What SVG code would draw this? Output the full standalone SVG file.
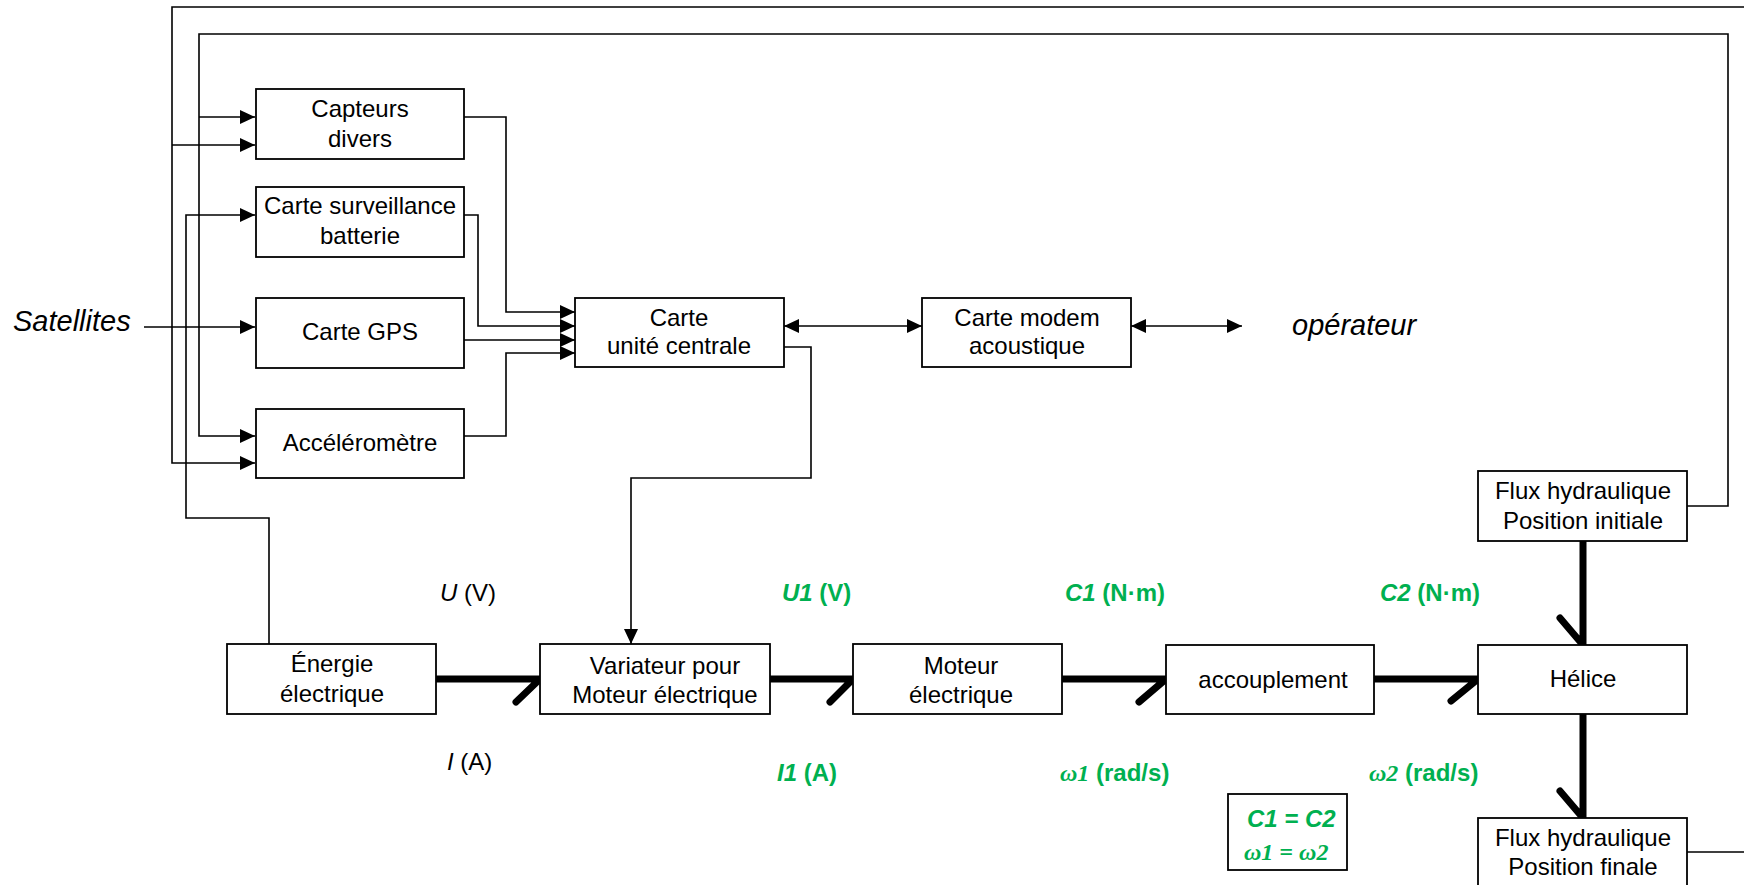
<svg xmlns="http://www.w3.org/2000/svg" width="1744" height="885" viewBox="0 0 1744 885">
<defs>
<style>
.box{fill:#fff;stroke:#000;stroke-width:1.8}
.ln{fill:none;stroke:#000;stroke-width:1.6}
.thick{fill:none;stroke:#000;stroke-width:7;stroke-linecap:round;stroke-linejoin:round}
.t{font-family:"Liberation Sans",Arial,sans-serif;font-size:24px;fill:#000;text-anchor:middle}
.lab{font-family:"Liberation Sans",Arial,sans-serif;font-size:29px;font-style:italic;fill:#000}
.v{font-family:"Liberation Sans",Arial,sans-serif;font-size:24px;fill:#000}
.g{font-family:"Liberation Sans",Arial,sans-serif;font-size:24px;font-weight:bold;fill:#00B050}
.om{font-family:"Liberation Serif","Times New Roman",serif;font-style:italic}
</style>
<marker id="ah" markerUnits="userSpaceOnUse" markerWidth="16" markerHeight="14" refX="15" refY="7" orient="auto-start-reverse">
<path d="M0,0 L15,7 L0,14 z" fill="#000"/>
</marker>
</defs>
<rect width="1744" height="885" fill="#fff"/>

<g id="connectors">
<path class="ln" d="M1687,852 H1747 V7 H172 V463 H255" marker-end="url(#ah)"/>
<path class="ln" d="M172,145 H255" marker-end="url(#ah)"/>
<path class="ln" d="M1687,506 H1728 V34 H199 V436 H255" marker-end="url(#ah)"/>
<path class="ln" d="M199,117 H255" marker-end="url(#ah)"/>
<path class="ln" d="M269,644 V518 H186 V215 H255" marker-end="url(#ah)"/>
<path class="ln" d="M144,327 H255" marker-end="url(#ah)"/>
<path class="ln" d="M464,117 H506 V312 H575" marker-end="url(#ah)"/>
<path class="ln" d="M464,215 H478 V326 H575" marker-end="url(#ah)"/>
<path class="ln" d="M464,340 H575" marker-end="url(#ah)"/>
<path class="ln" d="M464,436 H506 V353 H575" marker-end="url(#ah)"/>
<path class="ln" d="M784,347 H811 V478 H631 V644" marker-end="url(#ah)"/>
<path class="ln" d="M784,326 H922" marker-start="url(#ah)" marker-end="url(#ah)"/>
<path class="ln" d="M1131,326 H1242" marker-start="url(#ah)" marker-end="url(#ah)"/>
<path class="thick" d="M437,679 H540 L516,702"/>
<path class="thick" d="M771,679 H853 L830,702"/>
<path class="thick" d="M1063,679 H1166 L1139,702"/>
<path class="thick" d="M1375,679 H1478 L1451,701"/>
<path class="thick" d="M1583,542 V645 L1560,618"/>
<path class="thick" d="M1583,715 V818 L1560,791"/>
</g>

<g id="capteurs"><rect class="box" x="256" y="89" width="208" height="70"/><text class="t" x="360" y="117">Capteurs</text><text class="t" x="360" y="147">divers</text></g>
<g id="surveillance"><rect class="box" x="256" y="187" width="208" height="70"/><text class="t" x="360" y="214">Carte surveillance</text><text class="t" x="360" y="244">batterie</text></g>
<g id="gps"><rect class="box" x="256" y="298" width="208" height="70"/><text class="t" x="360" y="340">Carte GPS</text></g>
<g id="accelerometre"><rect class="box" x="256" y="409" width="208" height="69"/><text class="t" x="360" y="451">Accéléromètre</text></g>
<g id="unite"><rect class="box" x="575" y="298" width="209" height="69"/><text class="t" x="679" y="326">Carte</text><text class="t" x="679" y="354">unité centrale</text></g>
<g id="modem"><rect class="box" x="922" y="298" width="209" height="69"/><text class="t" x="1027" y="326">Carte modem</text><text class="t" x="1027" y="354">acoustique</text></g>
<g id="energie"><rect class="box" x="227" y="644" width="209" height="70"/><text class="t" x="332" y="672">Énergie</text><text class="t" x="332" y="702">électrique</text></g>
<g id="variateur"><rect class="box" x="540" y="644" width="230" height="70"/><text class="t" x="665" y="674">Variateur pour</text><text class="t" x="665" y="703">Moteur électrique</text></g>
<g id="moteur"><rect class="box" x="853" y="644" width="209" height="70"/><text class="t" x="961" y="674">Moteur</text><text class="t" x="961" y="703">électrique</text></g>
<g id="accouplement"><rect class="box" x="1166" y="645" width="208" height="69"/><text class="t" x="1273" y="688">accouplement</text></g>
<g id="helice"><rect class="box" x="1478" y="645" width="209" height="69"/><text class="t" x="1583" y="687">Hélice</text></g>
<g id="flux-initial"><rect class="box" x="1478" y="471" width="209" height="70"/><text class="t" x="1583" y="499">Flux hydraulique</text><text class="t" x="1583" y="529">Position initiale</text></g>
<g id="flux-finale"><rect class="box" x="1478" y="818" width="209" height="72"/><text class="t" x="1583" y="846">Flux hydraulique</text><text class="t" x="1583" y="875">Position finale</text></g>
<g id="egalites"><rect x="1228" y="794" width="119" height="76" fill="#fff" stroke="#000" stroke-width="1.8"/><text class="g" x="1247" y="827" font-style="italic">C1 = C2</text><text class="g om" x="1244" y="860">ω1 = ω2</text></g>

<g id="labels">
<text class="lab" x="13" y="331">Satellites</text>
<text class="lab" x="1292" y="335">opérateur</text>
<text class="v" x="440" y="601"><tspan font-style="italic">U</tspan> (V)</text>
<text class="v" x="447" y="770"><tspan font-style="italic">I</tspan> (A)</text>
<text class="g" x="782" y="601"><tspan font-style="italic">U1</tspan> (V)</text>
<text class="g" x="777" y="781"><tspan font-style="italic">I1</tspan> (A)</text>
<text class="g" x="1065" y="601"><tspan font-style="italic">C1</tspan> (N·m)</text>
<text class="g" x="1380" y="601"><tspan font-style="italic">C2</tspan> (N·m)</text>
<text class="g" x="1060" y="781"><tspan class="om">ω1</tspan> (rad/s)</text>
<text class="g" x="1369" y="781"><tspan class="om">ω2</tspan> (rad/s)</text>
</g>
</svg>
